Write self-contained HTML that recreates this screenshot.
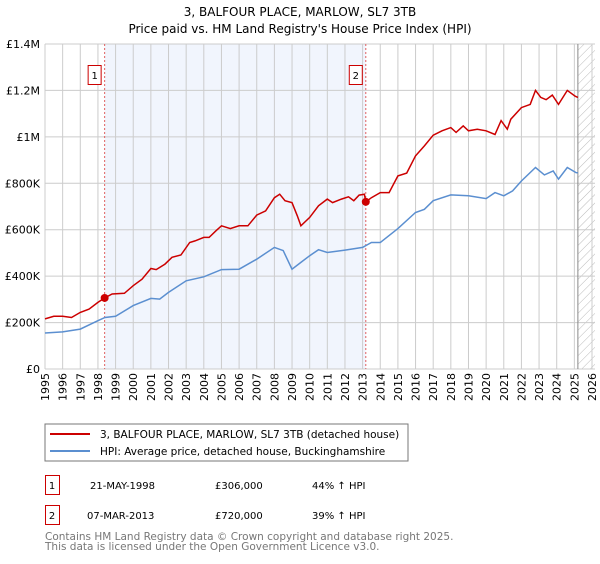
<!DOCTYPE html>
<html><head><meta charset="utf-8"><style>
body{margin:0;background:#fff;font-family:"DejaVu Sans","Liberation Sans",sans-serif;}
svg text{font-family:"DejaVu Sans","Liberation Sans",sans-serif;}
</style></head><body>
<svg id="chart" width="600" height="560" xmlns="http://www.w3.org/2000/svg">
<defs><pattern id="hatch" width="6" height="6" patternUnits="userSpaceOnUse" patternTransform="rotate(45)"><line x1="0" y1="0" x2="0" y2="6" stroke="#bbb" stroke-width="1"/></pattern></defs>
<text x="300" y="16" text-anchor="middle" font-size="12">3, BALFOUR PLACE, MARLOW, SL7 3TB</text>
<text x="300" y="33" text-anchor="middle" font-size="12">Price paid vs. HM Land Registry's House Price Index (HPI)</text>
<g id="grid"></g><g id="marks"></g><g id="axes"></g>
<rect x="45" y="424" width="363" height="37" fill="#fff" stroke="#777"/>
<line x1="50" y1="434" x2="90" y2="434" stroke="#cc0000" stroke-width="2"/>
<text x="100" y="438" font-size="10.5">3, BALFOUR PLACE, MARLOW, SL7 3TB (detached house)</text>
<line x1="50" y1="451" x2="90" y2="451" stroke="#5b8fd0" stroke-width="2"/>
<text x="100" y="455" font-size="10.5">HPI: Average price, detached house, Buckinghamshire</text>
<g>
<rect x="45.5" y="475.5" width="14" height="19" fill="#fff" stroke="#cc0000"/><text x="52" y="489" text-anchor="middle" font-size="10">1</text>
<text x="90" y="489" font-size="10">21-MAY-1998</text><text x="215" y="489" font-size="10">£306,000</text><text x="312" y="489" font-size="10">44% ↑ HPI</text></g>
<g>
<rect x="45.5" y="505.5" width="14" height="19" fill="#fff" stroke="#cc0000"/><text x="52" y="519" text-anchor="middle" font-size="10">2</text>
<text x="87" y="519" font-size="10">07-MAR-2013</text><text x="215" y="519" font-size="10">£720,000</text><text x="312" y="519" font-size="10">39% ↑ HPI</text></g>
<text x="45" y="540" font-size="10.5" fill="#777">Contains HM Land Registry data © Crown copyright and database right 2025.</text>
<text x="45" y="550" font-size="10.5" fill="#777">This data is licensed under the Open Government Licence v3.0.</text>
</svg>
<script>
const yTicks=[0,200000,400000,600000,800000,1000000,1200000,1400000];
const yTickLabels=["£0","£200K","£400K","£600K","£800K","£1M","£1.2M","£1.4M"];
const xTicks=[1995,1996,1997,1998,1999,2000,2001,2002,2003,2004,2005,2006,2007,2008,2009,2010,2011,2012,2013,2014,2015,2016,2017,2018,2019,2020,2021,2022,2023,2024,2025,2026];
const priceYears=[1995,1995.5,1996,1996.5,1997,1997.5,1998,1998.38,1998.8,1999.5,2000,2000.5,2001,2001.3,2001.8,2002.2,2002.7,2003.2,2003.5,2004,2004.3,2004.7,2005,2005.5,2006,2006.5,2007,2007.5,2008,2008.3,2008.6,2009,2009.3,2009.5,2010,2010.5,2011,2011.3,2011.8,2012.2,2012.5,2012.8,2013.1,2013.18,2013.5,2014,2014.5,2015,2015.5,2016,2016.5,2017,2017.5,2018,2018.3,2018.7,2019,2019.5,2020,2020.5,2020.85,2021.2,2021.4,2022,2022.5,2022.8,2023.1,2023.4,2023.75,2024.1,2024.6,2025.05,2025.2];
const priceValues=[216000,227000,227000,222000,244000,258000,287000,306000,323000,326000,359000,387000,433000,428000,452000,481000,491000,545000,552000,567000,567000,596000,617000,605000,617000,617000,663000,681000,738000,753000,725000,717000,660000,617000,653000,703000,732000,717000,732000,742000,725000,749000,753000,720000,738000,760000,760000,832000,844000,918000,961000,1007000,1026000,1040000,1019000,1047000,1026000,1033000,1026000,1010000,1070000,1033000,1076000,1126000,1140000,1200000,1170000,1160000,1180000,1140000,1200000,1175000,1170000];
const hpiYears=[1995,1996,1997,1998,1998.4,1999,2000,2001,2001.5,2002,2003,2004,2005,2006,2007,2008,2008.5,2009,2009.5,2010,2010.5,2011,2012,2013,2013.5,2014,2015,2016,2016.5,2017,2018,2019,2020,2020.5,2021,2021.5,2022,2022.8,2023.3,2023.8,2024.1,2024.6,2025.1,2025.2];
const hpiValues=[155000,160000,172000,208000,222000,227000,273000,304000,301000,330000,380000,397000,428000,430000,473000,524000,510000,430000,459000,488000,514000,502000,512000,524000,545000,545000,605000,674000,688000,725000,750000,746000,734000,760000,746000,767000,810000,868000,836000,853000,818000,868000,846000,845000];
const sales=[{year:1998.38,value:306000,label:"1"},{year:2013.18,value:720000,label:"2"}];
const X0=45,X1=592,Y0=369,Y1=44;
const xs=y=>X0+(y-1995)/(2026-1995)*(X1-X0);
const ys=v=>Y0-v/1400000*(Y0-Y1);
const NS="http://www.w3.org/2000/svg";
function mk(p,t,a){const e=document.createElementNS(NS,t);for(const k in a)e.setAttribute(k,a[k]);p.appendChild(e);return e;}
const grid=document.getElementById('grid'),marks=document.getElementById('marks'),axes=document.getElementById('axes');
const shade=mk(grid,'rect',{x:xs(sales[0].year),y:Y1,width:xs(sales[1].year)-xs(sales[0].year),height:Y0-Y1,fill:'#eef3fc',opacity:0.8});


const hx=xs(2025.2);
const hatch=mk(grid,'rect',{x:hx,y:Y1,width:X1-hx+3,height:Y0-Y1,fill:'url(#hatch)'});


xTicks.forEach(t=>{const l=mk(grid,'line',{x1:xs(t),x2:xs(t),y1:Y1,y2:Y0,stroke:'#ccc'});


const tx=mk(axes,'text',{x:0,y:0,'font-size':11,'text-anchor':'end',transform:`translate(${xs(t)+4},${Y0+4}) rotate(-90)`});tx.textContent=t;

});
yTicks.forEach((t,i)=>{const l=mk(grid,'line',{x1:X0,x2:X1+3,y1:ys(t),y2:ys(t),stroke:'#ccc'});


const tx=mk(axes,'text',{x:X0-5,y:ys(t)+4,'font-size':11,'text-anchor':'end'});tx.textContent=yTickLabels[i];

});
mk(grid,'line',{x1:hx,x2:hx,y1:Y1,y2:Y0,stroke:'#888'});
sales.forEach(s=>{const l=mk(grid,'line',{x1:xs(s.year),x2:xs(s.year),y1:Y1,y2:Y0,stroke:'#e06060','stroke-dasharray':'2,2'});

});
function path(xsArr,vs,color,name){const d=xsArr.map((y,i)=>(i?'L':'M')+xs(y).toFixed(1)+','+ys(vs[i]).toFixed(1)).join('');
const p=mk(marks,'path',{d:d,fill:'none',stroke:color,'stroke-width':1.5});

}
path(hpiYears,hpiValues,'#5b8fd0','hpi-line');
path(priceYears,priceValues,'#cc0000','price-line');
sales.forEach(s=>{const c=mk(marks,'circle',{cx:xs(s.year),cy:ys(s.value),r:4,fill:'#cc0000'});


const bx=xs(s.year)-17;
const r=mk(marks,'rect',{x:bx+0.5,y:65.5,width:13,height:19,fill:'#fff',stroke:'#cc0000'});


const t=mk(marks,'text',{x:bx+7,y:79,'font-size':10,'text-anchor':'middle'});t.textContent=s.label;

});
</script>
</body></html>
